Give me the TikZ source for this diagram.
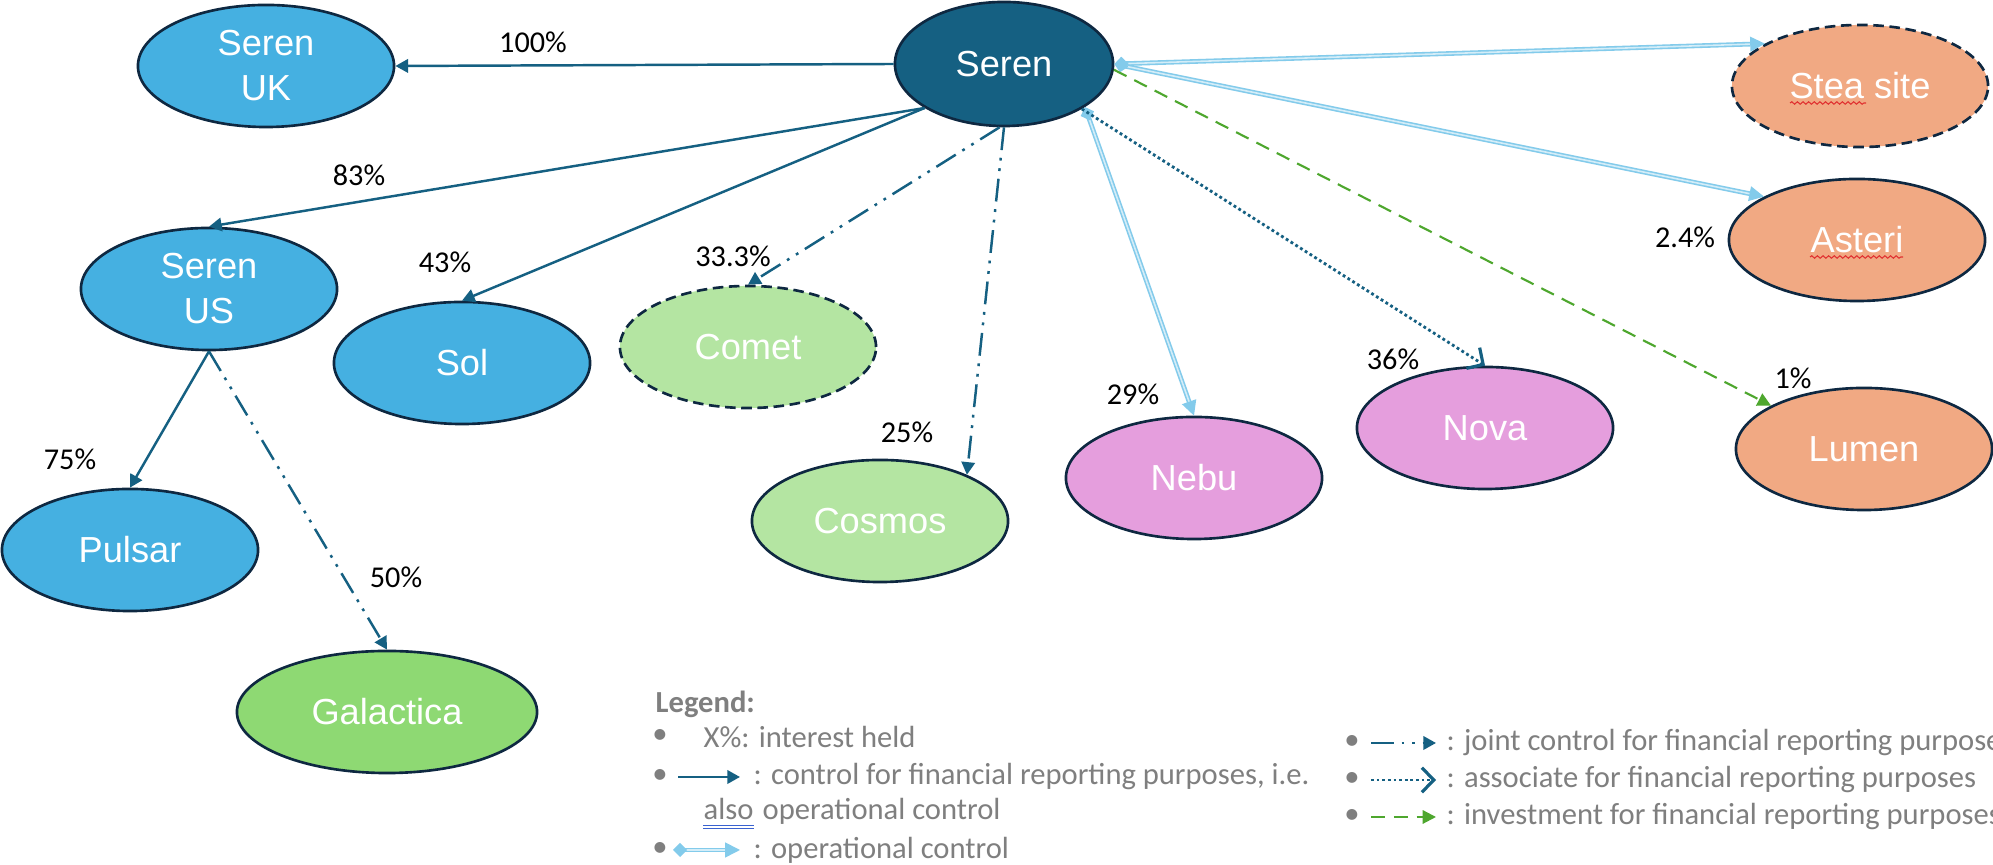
\documentclass[tikz,border=0pt]{standalone}
\usepackage{fontspec}
\setmainfont{Liberation Sans}
\newfontfamily\legendfont{Carlito}
\usetikzlibrary{shapes.geometric,arrows.meta,decorations.pathmorphing}

\definecolor{serenDark}{HTML}{156082}
\definecolor{serenBlue}{HTML}{45B0E1}
\definecolor{lightGreen}{HTML}{B4E5A2}
\definecolor{midGreen}{HTML}{8ED973}
\definecolor{pinkNode}{HTML}{E59EDD}
\definecolor{orangeNode}{HTML}{F1A983}
\definecolor{rimColor}{HTML}{0E2841}
\definecolor{opBlue}{HTML}{83CBEB}
\definecolor{invGreen}{HTML}{4EA72E}
\definecolor{legendGray}{HTML}{7F7F7F}
\definecolor{checkBlue}{HTML}{3A62D0}
\definecolor{checkRed}{HTML}{E03030}

\begin{document}
\begin{tikzpicture}[x=0.01cm,y=-0.01cm,
  entity/.style={ellipse,draw=rimColor,line width=0.75pt,minimum width=2.56cm,minimum height=1.22cm,
    inner sep=0pt,text=white,align=center,font=\fontsize{10.3}{12.8}\selectfont},
  dashedrim/.style={dash pattern=on 3pt off 1.6pt},
  pct/.style={inner sep=0pt,font=\legendfont\fontsize{8.6}{10}\selectfont},
  ctrl/.style={draw=serenDark,line width=0.7pt,-{Triangle[length=3.6pt,width=3.8pt]}},
  joint/.style={ctrl,dash pattern=on 6.5pt off 2.2pt on 0.8pt off 2.2pt on 0.8pt off 2.2pt},
  assoc/.style={draw=serenDark,line width=0.8pt,dash pattern=on 0.8pt off 0.8pt,
    -{Straight Barb[length=3.4pt,width=7pt,line width=0.9pt]}},
  oper/.style={draw=opBlue,line width=0.45pt,double=opBlue!35,double distance=0.45pt,
    {Diamond[length=4pt,width=4pt]}-{Triangle[length=4.2pt,width=4.2pt]}},
  invest/.style={draw=invGreen,line width=0.6pt,dash pattern=on 4pt off 2.5pt,-{Triangle[length=3.8pt,width=3.8pt]}},
  legendtext/.style={inner sep=0pt,anchor=west,text=legendGray,font=\legendfont\fontsize{8.7}{10}\selectfont},
  squiggle/.style={draw=checkRed,line width=0.3pt,decorate,decoration={snake,amplitude=0.35pt,segment length=1.6pt}}
]
\path[use as bounding box,fill=white] (0,0) rectangle (1993,865);

\node[entity,fill=serenDark,minimum width=2.18cm,minimum height=1.24cm] (seren) at (1004,64) {Seren};
\node[entity,fill=serenBlue] (serenUK) at (266,66) {Seren\\UK};
\node[entity,fill=serenBlue] (serenUS) at (209,289) {Seren\\US};
\node[entity,fill=serenBlue] (sol) at (462,363) {Sol};
\node[entity,fill=lightGreen,dashedrim] (comet) at (748,347) {Comet};
\node[entity,fill=lightGreen] (cosmos) at (880,521) {Cosmos};
\node[entity,fill=pinkNode] (nebu) at (1194,478) {Nebu};
\node[entity,fill=pinkNode] (nova) at (1485,428) {Nova};
\node[entity,fill=orangeNode,dashedrim] (stea) at (1860,86) {Stea site};
\node[entity,fill=orangeNode] (asteri) at (1857,240) {Asteri};
\node[entity,fill=orangeNode] (lumen) at (1864,449) {Lumen};
\node[entity,fill=serenBlue] (pulsar) at (130,550) {Pulsar};
\node[entity,fill=midGreen,minimum width=3cm] (galactica) at (387,712) {Galactica};

% spelling marks
\draw[squiggle] (1790,103) -- (1866,103);
\draw[squiggle] (1810,257) -- (1903,257);

\draw[ctrl] (seren.west) -- (serenUK.east);
\draw[ctrl] (seren.209) -- (serenUS.north);
\draw[ctrl] (seren.209) -- (sol.north);
\draw[joint] (seren.266) -- (comet.north);
\draw[joint] (seren.south) -- (cosmos.28);
\draw[oper] (seren.332) -- (nebu.north);
\draw[assoc] (seren.330) -- (nova.north);
\draw[oper] (seren.east) -- (stea.156);
\draw[oper] (seren.east) -- (asteri.155);
\draw[invest] (seren.357) -- (lumen.155);
\draw[ctrl] (serenUS.south) -- (pulsar.north);
\draw[joint] (serenUS.south) -- (galactica.north);

\node[pct] (pctUK) at (533,42) {100\%};
\node[pct] (pctUS) at (359,175) {83\%};
\node[pct] (pctSol) at (445,262) {43\%};
\node[pct] (pctComet) at (733,256) {33.3\%};
\node[pct] (pctCosmos) at (907,432) {25\%};
\node[pct] (pctNebu) at (1133,394) {29\%};
\node[pct] (pctNova) at (1393,359) {36\%};
\node[pct] (pctAsteri) at (1685,237) {2.4\%};
\node[pct] (pctLumen) at (1793,378) {1\%};
\node[pct] (pctPulsar) at (70,459) {75\%};
\node[pct] (pctGalactica) at (396,577) {50\%};

\node[legendtext,font=\legendfont\bfseries\fontsize{8.7}{10}\selectfont] (legTitle) at (655,704) {Legend:};
\node[legendtext,anchor=center] (bulA) at (660,737) {\textbullet};
\node[legendtext] (legA) at (703,737) {X\%: interest held};
\node[legendtext,anchor=center] (bulB) at (660,777) {\textbullet};
\coordinate (ctrlFrom) at (678,777);
\coordinate (ctrlTo) at (740,777);
\draw[ctrl] (ctrlFrom) -- (ctrlTo);
\node[legendtext] (legB) at (753,777) {: control for financial reporting purposes, i.e.};
\node[legendtext,anchor=base west] (legAlso) at (703,820) {also};
\node[legendtext,anchor=base west] (legB2) at ([xshift=2.2pt]legAlso.base east) {operational control};
\draw[checkBlue,line width=0.3pt] ([yshift=-1.6pt]legAlso.base west) -- ([yshift=-1.6pt]legAlso.base east);
\draw[checkBlue,line width=0.3pt] ([yshift=-2.5pt]legAlso.base west) -- ([yshift=-2.5pt]legAlso.base east);
\node[legendtext,anchor=center] (bulC) at (660,850) {\textbullet};
\coordinate (operFrom) at (673,850);
\coordinate (operTo) at (740,850);
\draw[oper] (operFrom) -- (operTo);
\node[legendtext] (legC) at (753,850) {: operational control};

\node[legendtext,anchor=center] (bulD) at (1352,743) {\textbullet};
\coordinate (jointFrom) at (1371,743);
\coordinate (jointTo) at (1436,743);
\draw[joint] (jointFrom) -- (jointTo);
\node[legendtext] (legD) at (1446,743) {: joint control for financial reporting purposes};
\node[legendtext,anchor=center] (bulE) at (1352,780) {\textbullet};
\coordinate (assocFrom) at (1371,780);
\coordinate (assocTo) at (1436,780);
\draw[assoc] (assocFrom) -- (assocTo);
\node[legendtext] (legE) at (1446,780) {: associate for financial reporting purposes};
\node[legendtext,anchor=center] (bulF) at (1352,817) {\textbullet};
\coordinate (investFrom) at (1371,817);
\coordinate (investTo) at (1436,817);
\draw[invest] (investFrom) -- (investTo);
\node[legendtext] (legF) at (1446,817) {: investment for financial reporting purposes};
\end{tikzpicture}
\end{document}
